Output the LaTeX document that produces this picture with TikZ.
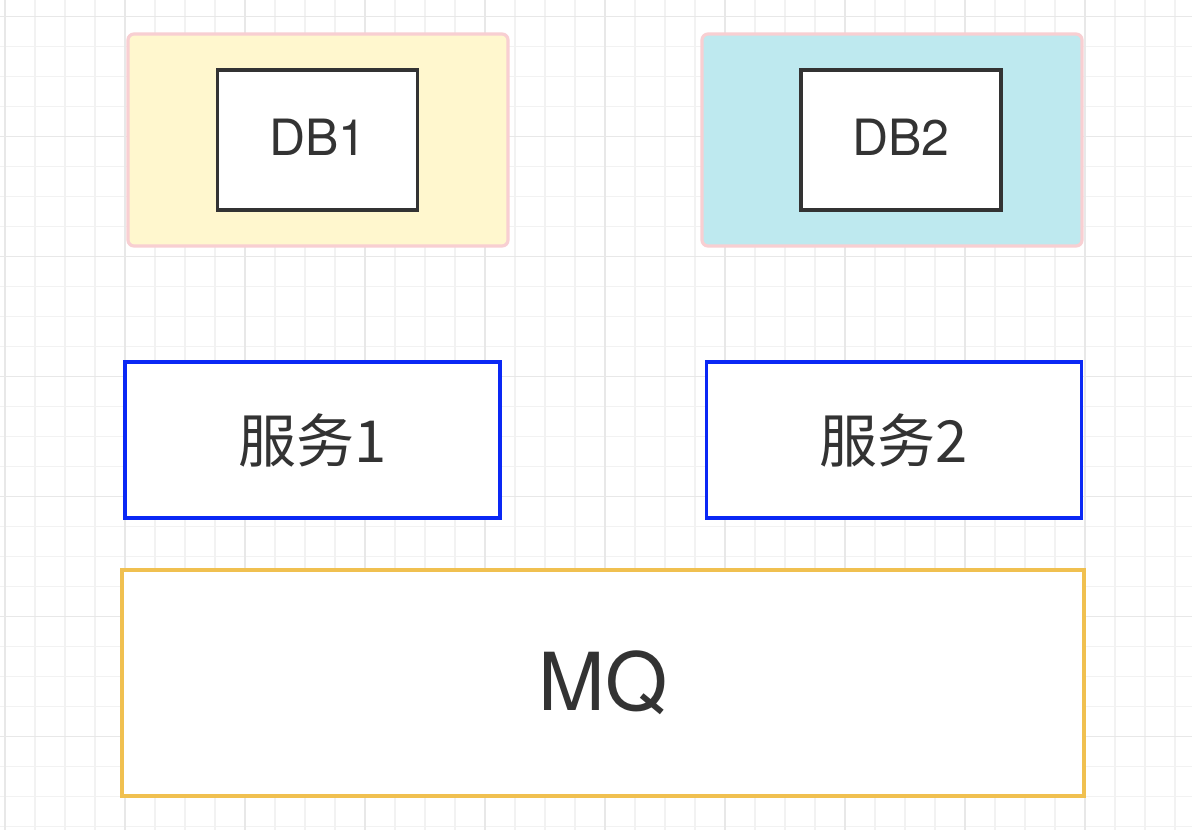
\documentclass[tikz,border=0pt]{standalone}
\usepackage{fontspec}
\setmainfont{TeX Gyre Heros}
\newfontfamily\cjk{Noto Sans CJK SC}
\definecolor{txt}{HTML}{333333}
\definecolor{gridminor}{HTML}{F2F2F2}
\definecolor{gridmajor}{HTML}{E8E8E8}
\definecolor{pinkb}{HTML}{F8CFD2}
\definecolor{yellowf}{HTML}{FFF7CE}
\definecolor{cyanf}{HTML}{BEE9EF}
\definecolor{blueb}{HTML}{0A28F5}
\definecolor{mqb}{HTML}{F0C050}
\tikzset{
  dbouter/.style={draw=pinkb, line width=3.2pt, rounded corners=6pt, inner sep=0pt},
  dbinner/.style={draw=txt, fill=white, line width=3.4pt, inner sep=0pt, minimum width=200pt, minimum height=140pt},
  dblabel/.style={text=txt, font=\fontsize{50}{60}\selectfont, inner sep=0pt},
  svcbox/.style={draw=blueb, fill=white, line width=3.4pt, inner sep=0pt, minimum width=375pt, minimum height=156pt, text=txt, font=\cjk\fontsize{58}{68}\selectfont},
  mqbox/.style={draw=mqb, fill=white, line width=3.2pt, inner sep=0pt, minimum width=962pt, minimum height=226pt, text=txt, font=\fontsize{80}{96}\selectfont},
}
\begin{document}
\begin{tikzpicture}[x=1pt,y=-1pt]
\useasboundingbox (0,0) rectangle (1192,830);
\fill[white] (0,0) rectangle (1192,830);
% grid
\foreach \i in {0,...,39} {
  \pgfmathsetmacro{\xx}{5+30*\i}
  \draw[gridminor, line width=1.5pt] (\xx,0) -- (\xx,830);
}
\foreach \i in {0,...,27} {
  \pgfmathsetmacro{\yy}{16.7+30*\i}
  \draw[gridminor, line width=1.5pt] (0,\yy) -- (1192,\yy);
}
\foreach \i in {0,...,9} {
  \pgfmathsetmacro{\xx}{5+120*\i}
  \draw[gridmajor, line width=1.5pt] (\xx,0) -- (\xx,830);
}
\foreach \i in {0,...,6} {
  \pgfmathsetmacro{\yy}{16.7+120*\i}
  \draw[gridmajor, line width=1.5pt] (0,\yy) -- (1192,\yy);
}
% DB containers
\node[dbouter, fill=yellowf, minimum width=380pt, minimum height=212pt] (db1box) at (318,140) {};
\node[dbouter, fill=cyanf, minimum width=380pt, minimum height=212pt] (db2box) at (892,140) {};
\node[dbinner] (db1) at (317.5,140) {};
\node[dbinner] (db2) at (901,140) {};
\node[dblabel] (db1t) at (318,137) {DB1};
\node[dblabel] (db2t) at (901,137) {DB2};
% services
\node[svcbox] (svc1) at (312.5,440) {服务1};
\node[svcbox] (svc2) at (894,440) {服务2};
% MQ
\node[mqbox] (mq) at (603,683) {MQ};
\end{tikzpicture}
\end{document}
